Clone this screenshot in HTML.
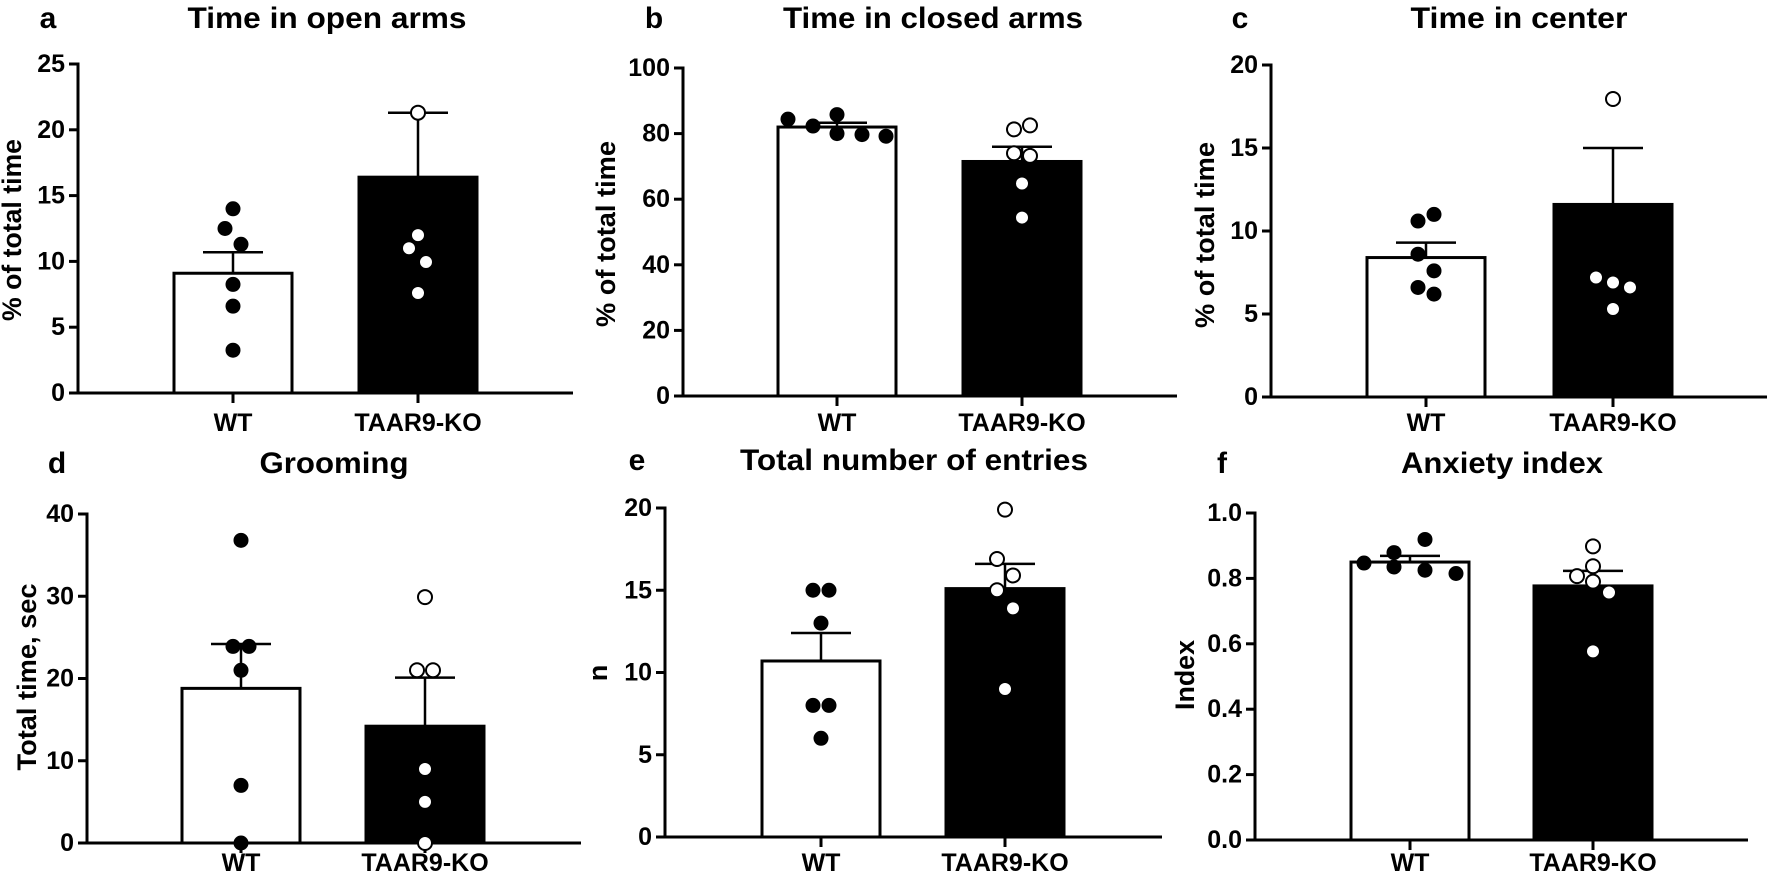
<!DOCTYPE html>
<html><head><meta charset="utf-8"><title>EPM panels</title>
<style>
html,body{margin:0;padding:0;background:#fff;}
svg{display:block;font-family:"Liberation Sans",Arial,sans-serif;font-weight:bold;}
</style></head>
<body>
<svg id="fig" width="1772" height="882" viewBox="0 0 1772 882" xmlns="http://www.w3.org/2000/svg"></svg>
<script>
const categories = ["WT", "TAAR9-KO"];

// Panel a: Time in open arms
const aTicks = [0, 5, 10, 15, 20, 25];
const aTickLabels = ["0", "5", "10", "15", "20", "25"];
const aMeans = [9.1, 16.4];
const aErrTops = [10.7, 21.3];
const aWT = [14.0, 12.5, 11.3, 8.25, 6.6, 3.25];
const aKO = [21.3, 12.0, 11.0, 9.95, 7.6];

// Panel b: Time in closed arms
const bTicks = [0, 20, 40, 60, 80, 100];
const bTickLabels = ["0", "20", "40", "60", "80", "100"];
const bMeans = [82.0, 71.5];
const bErrTops = [83.3, 76.0];
const bWT = [84.4, 82.3, 85.8, 80.0, 79.7, 79.2];
const bKO = [81.3, 82.5, 74.0, 73.2, 64.8, 54.4];

// Panel c: Time in center
const cTicks = [0, 5, 10, 15, 20];
const cTickLabels = ["0", "5", "10", "15", "20"];
const cMeans = [8.4, 11.6];
const cErrTops = [9.3, 15.0];
const cWT = [10.6, 11.0, 8.6, 7.6, 6.6, 6.2];
const cKO = [17.95, 7.2, 6.9, 6.6, 5.3];

// Panel d: Grooming
const dTicks = [0, 10, 20, 30, 40];
const dTickLabels = ["0", "10", "20", "30", "40"];
const dMeans = [18.8, 14.2];
const dErrTops = [24.2, 20.1];
const dWT = [36.8, 23.9, 23.9, 21.0, 7.0, 0];
const dKO = [29.9, 21.0, 21.0, 9.0, 5.0, 0];

// Panel e: Total number of entries
const eTicks = [0, 5, 10, 15, 20];
const eTickLabels = ["0", "5", "10", "15", "20"];
const eMeans = [10.7, 15.1];
const eErrTops = [12.4, 16.6];
const eWT = [15.0, 15.0, 13.0, 8.0, 8.0, 6.0];
const eKO = [19.9, 16.9, 15.9, 15.0, 13.9, 9.0];

// Panel f: Anxiety index
const fTicks = [0, 0.2, 0.4, 0.6, 0.8, 1.0];
const fTickLabels = ["0.0", "0.2", "0.4", "0.6", "0.8", "1.0"];
const fMeans = [0.850, 0.777];
const fErrTops = [0.869, 0.823];
const fWT = [0.847, 0.879, 0.835, 0.919, 0.825, 0.815];
const fKO = [0.898, 0.837, 0.807, 0.790, 0.757, 0.577];

// layout (pixels only)
const layouts = [
 {id:"a", x0:78, base:393, top:64, xEnd:573, cx:[233,418], title:"Time in open arms", tx:327, tw:279, lx:48, ty:28, yl:"% of total time", ylx:12, yly:230, ylw:182, lab:431,
  jWT:[0,-8,8,0,0,0], jKO:[0,0,-9,8,0]},
 {id:"b", x0:683, base:396, top:68, xEnd:1177, cx:[837,1022], title:"Time in closed arms", tx:933, tw:300, lx:654, ty:28, yl:"% of total time", ylx:606, yly:234, ylw:186, lab:431,
  jWT:[-49,-24,0,0,25,49], jKO:[-8,8,-8,8,0,0]},
 {id:"c", x0:1271, base:397, top:65, xEnd:1767, cx:[1426,1613], title:"Time in center", tx:1519, tw:217, lx:1240, ty:28, yl:"% of total time", ylx:1205, yly:235, ylw:186, lab:431,
  jWT:[-8,8,-8,8,-8,8], jKO:[0,-17,0,17,0]},
 {id:"d", x0:87, base:843, top:514, xEnd:581, cx:[241,425], title:"Grooming", tx:334, tw:149, lx:57, ty:473, yl:"Total time, sec", ylx:27, yly:677, ylw:187, lab:871,
  jWT:[0,-8,8,0,0,0], jKO:[0,-8,8,0,0,0]},
 {id:"e", x0:665, base:837, top:508, xEnd:1162, cx:[821,1005], title:"Total number of entries", tx:914, tw:348, lx:637, ty:470, yl:"n", ylx:598, yly:673, ylw:0, lab:871,
  jWT:[-8,8,0,-8,8,0], jKO:[0,-8,8,-8,8,0]},
 {id:"f", x0:1255, base:840, top:513, xEnd:1748, cx:[1410,1593], title:"Anxiety index", tx:1502, tw:202, lx:1222, ty:473, yl:"Index", ylx:1185, yly:675, ylw:70, lab:871,
  jWT:[-46,-16,-16,15,15,46], jKO:[0,0,-16,0,16,0]}
];
const panelData = {
 a:{ticks:aTicks, tl:aTickLabels, means:aMeans, errs:aErrTops, wt:aWT, ko:aKO},
 b:{ticks:bTicks, tl:bTickLabels, means:bMeans, errs:bErrTops, wt:bWT, ko:bKO},
 c:{ticks:cTicks, tl:cTickLabels, means:cMeans, errs:cErrTops, wt:cWT, ko:cKO},
 d:{ticks:dTicks, tl:dTickLabels, means:dMeans, errs:dErrTops, wt:dWT, ko:dKO},
 e:{ticks:eTicks, tl:eTickLabels, means:eMeans, errs:eErrTops, wt:eWT, ko:eKO},
 f:{ticks:fTicks, tl:fTickLabels, means:fMeans, errs:fErrTops, wt:fWT, ko:fKO}
};

const NS = "http://www.w3.org/2000/svg";
const svg = document.getElementById("fig");
function mk(tag, attrs, parent){
  const e = document.createElementNS(NS, tag);
  for (const k in attrs) e.setAttribute(k, attrs[k]);
  parent.appendChild(e);
  return e;
}

layouts.forEach(L => {
  const D = panelData[L.id];
  const maxV = D.ticks[D.ticks.length-1];
  const yScale = v => L.base - (v / maxV) * (L.base - L.top);
  const g = mk("g", {}, svg);
  
  

  const lt = mk("text", {x:L.lx, y:L.ty, "font-size":30, "text-anchor":"middle"}, g);
  lt.textContent = L.id;
  
  

  const tt = mk("text", {x:L.tx, y:L.ty, "font-size":30, "text-anchor":"middle", textLength:L.tw, lengthAdjust:"spacingAndGlyphs"}, g);
  tt.textContent = L.title;
  
  

  const ylAttrs = {x:0, y:0, "font-size":27, "text-anchor":"middle", "dominant-baseline":"central", transform:"translate(" + L.ylx + "," + L.yly + ") rotate(-90)"};
  if (L.ylw) { ylAttrs.textLength = L.ylw; ylAttrs.lengthAdjust = "spacingAndGlyphs"; }
  const yl = mk("text", ylAttrs, g);
  yl.textContent = L.yl;
  
  

  D.means.forEach((m, i) => {
    const y = yScale(m);
    const r = mk("rect", {x:L.cx[i]-59, y:y, width:118, height:L.base - y, fill: i===0 ? "#fff" : "#000", stroke:"#000", "stroke-width":3}, g);
    
    
  });

  D.errs.forEach((e, i) => {
    const ym = yScale(D.means[i]), ye = yScale(e);
    const eg = mk("g", {stroke: "#000", "stroke-width":2.5}, g);
    
    
    mk("line", {x1:L.cx[i], x2:L.cx[i], y1:ym, y2:ye}, eg);
    mk("line", {x1:L.cx[i]-30, x2:L.cx[i]+30, y1:ye, y2:ye}, eg);
  });

  const ax = mk("g", {stroke:"#000", "stroke-width":3}, g);
  
  
  mk("line", {x1:L.x0, x2:L.x0, y1:L.top-1.5, y2:L.base+1.5}, ax);
  mk("line", {x1:L.x0-9, x2:L.xEnd, y1:L.base, y2:L.base}, ax);
  D.ticks.forEach((t, k) => {
    const y = yScale(t);
    mk("line", {x1:L.x0-9, x2:L.x0, y1:y, y2:y}, ax);
    const tl = mk("text", {x:L.x0-13, y:y, "font-size":25, "text-anchor":"end", "dominant-baseline":"central", stroke:"none", fill:"#000"}, g);
    tl.textContent = D.tl[k];
    
    
  });
  categories.forEach((c, i) => {
    mk("line", {x1:L.cx[i], x2:L.cx[i], y1:L.base, y2:L.base+10}, ax);
    const cl = mk("text", {x:L.cx[i], y:L.lab, "font-size":25, "text-anchor":"middle"}, g);
    cl.textContent = c;
    
    
  });

  D.wt.forEach((v, k) => {
    const p = mk("circle", {cx:L.cx[0] + L.jWT[k], cy:yScale(v), r:7.5, fill:"#000"}, g);
    
    
  });
  D.ko.forEach((v, k) => {
    const p = mk("circle", {cx:L.cx[1] + L.jKO[k], cy:yScale(v), r:7, fill:"#fff", stroke:"#000", "stroke-width":2}, g);
    
    
  });
});
</script>
</body></html>
